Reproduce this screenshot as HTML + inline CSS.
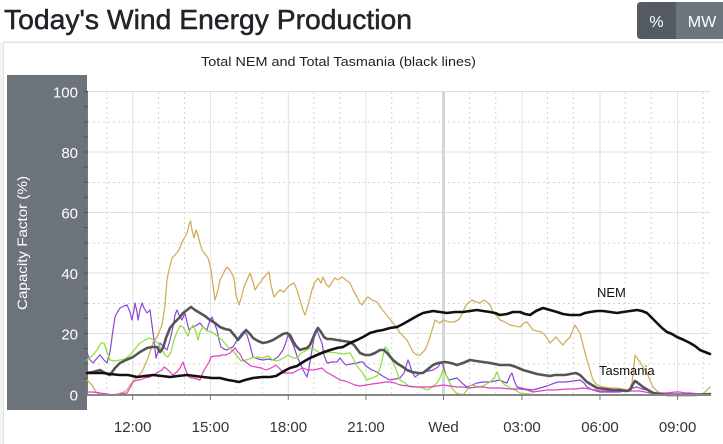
<!DOCTYPE html>
<html><head><meta charset="utf-8"><style>
html,body{margin:0;padding:0;background:#fff;width:723px;height:444px;overflow:hidden}
svg{display:block;font-family:"Liberation Sans",sans-serif}
</style></head><body>
<svg width="723" height="444" viewBox="0 0 723 444" xmlns="http://www.w3.org/2000/svg">
<rect x="0" y="0" width="723" height="444" fill="#fff"/>
<rect x="0" y="42" width="3" height="402" fill="#f3f3f3"/>
<!-- card -->
<rect x="3.5" y="42.5" width="725" height="410" fill="#fff" stroke="#e2e2e2" stroke-width="1"/>
<line x1="3" y1="41.5" x2="723" y2="41.5" stroke="#f0f0f0"/>
<!-- title -->
<text x="4" y="29" font-size="28" fill="#212529" stroke="#212529" stroke-width="0.5" textLength="408" lengthAdjust="spacingAndGlyphs">Today's Wind Energy Production</text>
<!-- buttons -->
<path d="M641,2 H676 V39 H641 Q637,39 637,35 V6 Q637,2 641,2 Z" fill="#545b62"/>
<rect x="676" y="2" width="47" height="37" fill="#6c757d"/>
<text x="656.5" y="27" font-size="16" fill="#fff" text-anchor="middle">%</text>
<text x="702" y="27" font-size="16" fill="#fff" text-anchor="middle">MW</text>
<!-- subtitle -->
<text x="201" y="66" font-size="13" fill="#222" textLength="275" lengthAdjust="spacingAndGlyphs">Total NEM and Total Tasmania (black lines)</text>
<!-- y axis panel -->
<rect x="7" y="75" width="80" height="335" fill="#6c737b"/>
<text transform="translate(27,243) rotate(-90)" font-size="14" fill="#fff" text-anchor="middle" textLength="134" lengthAdjust="spacingAndGlyphs">Capacity Factor (%)</text>
<g font-size="15" fill="#fff" text-anchor="end">
<text x="78" y="97.5">100</text>
<text x="78" y="158">80</text>
<text x="78" y="218.5">60</text>
<text x="78" y="279">40</text>
<text x="78" y="339.5">20</text>
<text x="78" y="400.5">0</text>
</g>
<!-- grid -->
<g stroke="#d4d4d4" stroke-width="1" stroke-dasharray="2,3">
<line x1="88" y1="122" x2="710" y2="122"/>
<line x1="88" y1="182.5" x2="710" y2="182.5"/>
<line x1="88" y1="243" x2="710" y2="243"/>
<line x1="88" y1="303.5" x2="710" y2="303.5"/>
<line x1="88" y1="364" x2="710" y2="364"/>
<line x1="106.8" y1="92" x2="106.8" y2="394"/>
<line x1="158.6" y1="92" x2="158.6" y2="394"/>
<line x1="184.5" y1="92" x2="184.5" y2="394"/>
<line x1="236.3" y1="92" x2="236.3" y2="394"/>
<line x1="262.2" y1="92" x2="262.2" y2="394"/>
<line x1="314" y1="92" x2="314" y2="394"/>
<line x1="339.9" y1="92" x2="339.9" y2="394"/>
<line x1="391.7" y1="92" x2="391.7" y2="394"/>
<line x1="417.8" y1="92" x2="417.8" y2="394"/>
<line x1="469.6" y1="92" x2="469.6" y2="394"/>
<line x1="495.8" y1="92" x2="495.8" y2="394"/>
<line x1="547.4" y1="92" x2="547.4" y2="394"/>
<line x1="573.3" y1="92" x2="573.3" y2="394"/>
<line x1="625.1" y1="92" x2="625.1" y2="394"/>
<line x1="651" y1="92" x2="651" y2="394"/>
<line x1="703" y1="92" x2="703" y2="394"/>
</g>
<g stroke="#e0e0e0" stroke-width="1">
<line x1="88" y1="91.5" x2="710" y2="91.5"/>
<line x1="88" y1="152" x2="710" y2="152"/>
<line x1="88" y1="212.5" x2="710" y2="212.5"/>
<line x1="88" y1="273" x2="710" y2="273"/>
<line x1="88" y1="333.5" x2="710" y2="333.5"/>
<line x1="132.7" y1="92" x2="132.7" y2="394"/>
<line x1="210.4" y1="92" x2="210.4" y2="394"/>
<line x1="288.3" y1="92" x2="288.3" y2="394"/>
<line x1="366" y1="92" x2="366" y2="394"/>
<line x1="522" y1="92" x2="522" y2="394"/>
<line x1="600" y1="92" x2="600" y2="394"/>
<line x1="677.6" y1="92" x2="677.6" y2="394"/>
</g>
<line x1="443.5" y1="92" x2="443.5" y2="394" stroke="#d6d6d6" stroke-width="3"/>
<!-- y axis line & minor ticks -->
<line x1="87.5" y1="91" x2="87.5" y2="395" stroke="#777" stroke-width="1"/>
<g stroke="#555" stroke-width="1">
<line x1="84" y1="91.5" x2="88" y2="91.5"/><line x1="84" y1="106.6" x2="88" y2="106.6"/><line x1="84" y1="121.8" x2="88" y2="121.8"/><line x1="84" y1="136.9" x2="88" y2="136.9"/>
<line x1="84" y1="152" x2="88" y2="152"/><line x1="84" y1="167.1" x2="88" y2="167.1"/><line x1="84" y1="182.3" x2="88" y2="182.3"/><line x1="84" y1="197.4" x2="88" y2="197.4"/>
<line x1="84" y1="212.5" x2="88" y2="212.5"/><line x1="84" y1="227.6" x2="88" y2="227.6"/><line x1="84" y1="242.8" x2="88" y2="242.8"/><line x1="84" y1="257.9" x2="88" y2="257.9"/>
<line x1="84" y1="273" x2="88" y2="273"/><line x1="84" y1="288.1" x2="88" y2="288.1"/><line x1="84" y1="303.3" x2="88" y2="303.3"/><line x1="84" y1="318.4" x2="88" y2="318.4"/>
<line x1="84" y1="333.5" x2="88" y2="333.5"/><line x1="84" y1="348.6" x2="88" y2="348.6"/><line x1="84" y1="363.8" x2="88" y2="363.8"/><line x1="84" y1="378.9" x2="88" y2="378.9"/>
</g>
<!-- series -->
<g fill="none" stroke-linejoin="round" stroke-linecap="round">
<polyline stroke="#d2ae5e" stroke-width="1.3" points="87,380 92,385 96,392 100,395 110,395 118,394 124,392 127,390 130,385 134,380 137,377 142,372 148,358 153,343 158,335 162,325 165,305 167,280 169,270 172,258 175,255 179,250 182,242 185,237 187,233 189,225 190.5,221 192,230 194,238 196,230 198,235 200,243 202,250 205,254 208,258 211,270 213,285 215,300 218,290 220,280 224,272 227,267 230,270 234,278 236,295 239,305 242,295 244,287 247,280 250,273 253,282 255,290 258,285 262,280 265,276 269,272 271,285 274,297 277,293 280,290 284,292 287,288 290,285 294,283 297,290 300,300 303,310 305,315 308,305 312,290 315,282 318,278 321,283 323,277 326,284 329,287 332,282 335,278 338,280 342,277 346,280 350,283 353,290 357,297 360,303 362,305 365,300 368,297 372,300 377,302 381,308 385,313 389,318 393,323 397,328 400,333 404,337 407,340 410,346 413,352 417,355 420,355 423,352 425,350 428,343 430,337 433,327 435,320 438,322 440,323 443,320 446,321 450,322 454,322 458,320 460,318 463,312 465,307 468,303 472,300 476,302 480,303 484,300 487,302 490,305 493,312 497,316 500,320 505,322 510,325 515,326 520,327 524,323 527,322 530,326 533,330 537,331 541,332 544,334 547,338 550,343 553,340 556,337 560,342 563,345 566,341 570,337 573,330 575,325 578,330 580,333 583,345 587,360 590,370 593,380 597,385 603,387 610,388 617,388 622,389 627,390 630,388 632,383 634,365 635,355 637,358 640,362 643,367 647,373 650,380 653,387 657,391 660,393 665,394 680,394 695,394 703,394 707,390 710,387"/>
<polyline stroke="#8c46d4" stroke-width="1.2" points="87,353 90,360 93,363 97,358 100,355 104,360 107,363 110,352 113,330 115,317 118,311 120,308 124,306 127,305 130,312 132,320 134,310 135,303 137,312 138,320 140,310 142,303 144,308 147,313 150,310 152,325 154,340 156,358 158,352 160,343 163,346 167,350 170,340 173,327 175,315 177,310 179,315 182,320 185,313 187,322 189,330 191,328 193,327 197,325 200,323 203,327 207,330 209,323 212,317 214,322 217,330 219,340 221,347 224,349 227,350 230,348 233,347 237,340 242,333 244,331 247,335 250,345 253,357 258,359 263,360 268,359 273,360 278,357 283,350 286,342 288,335 291,340 294,347 297,356 300,363 303,370 307,377 309,368 312,350 314,338 317,330 319,336 322,343 324,355 327,363 332,362 337,362 340,358 343,362 346,365 351,364 357,363 360,362 363,362 366,366 372,370 377,372 381,375 386,378 390,380 395,379 400,378 404,373 408,360 410,365 412,372 415,377 419,374 423,372 428,371 433,370 438,367 441,362 443,365 446,375 449,380 453,379 457,378 462,383 467,387 472,385 477,383 483,382 490,382 495,381 500,380 504,382 507,383 510,376 512,373 514,380 517,387 525,389 533,390 540,388 547,386 552,384 558,382 566,382 573,381 580,380 584,383 587,387 593,390 600,392 610,392 620,392 628,390 633,388 637,387 642,389 647,390 652,392 657,393 665,394 680,394 695,394 710,394"/>
<polyline stroke="#8ee23e" stroke-width="1.3" points="87,360 92,356 97,350 101,343 104,343 107,352 110,360 115,361 120,360 125,359 130,355 135,349 140,343 145,340 150,338 155,341 158,343 162,350 165,355 168,357 171,352 174,340 177,332 180,326 183,327 186,332 188,336 190,330 193,325 196,332 198,340 200,332 203,327 207,331 212,332 217,336 222,340 227,346 232,350 237,356 241,361 246,360 252,358 258,357 263,358 268,356 273,360 278,361 283,358 288,355 293,358 297,358 300,354 305,351 310,348 315,350 320,353 325,353 330,352 337,353 343,354 350,353 353,358 357,366 362,372 367,380 372,378 377,376 381,365 385,347 388,350 391,358 394,364 397,372 400,380 405,383 410,387 415,387 420,387 425,389 428,390 432,387 437,383 440,378 443,370 446,375 449,381 452,388 456,393 460,394 463,395 467,390 471,385 475,386 480,387 485,385 490,382 494,378 497,372 500,380 505,385 510,388 515,390 520,393 530,394 537,395 560,395 600,395 650,395 710,395"/>
<polyline stroke="#e040c4" stroke-width="1.2" points="87,392 93,392 100,393 107,394 113,395 120,394 127,393 130,388 133,382 137,380 140,380 145,378 150,377 155,374 158,372 162,370 164,367 167,369 170,372 173,375 177,372 180,368 183,362 185,368 188,376 191,378 194,378 197,379 200,380 203,372 206,367 209,362 211,357 215,356 219,356 222,355 226,355 230,353 233,350 235,348 237,351 240,354 243,360 247,363 251,366 256,367 261,368 266,370 271,368 276,365 280,369 284,373 289,373 293,373 298,370 303,368 308,370 313,370 318,369 322,368 326,372 330,374 335,377 340,380 345,381 350,383 355,385 360,386 366,385 372,384 380,383 386,382 390,382 395,383 400,385 408,386 416,387 423,387 430,387 437,386 443,385 450,386 457,387 463,387 470,388 477,387 483,387 490,388 500,388 510,389 520,389 527,390 533,392 540,391 547,390 555,390 566,389 575,389 583,388 590,389 600,391 610,391 620,391 630,391 640,391 650,393 660,393 667,393 675,392 680,392 685,393 690,393 700,394 710,394"/>
<polyline stroke="#555" stroke-width="2.6" points="87,373 93,372 100,370 105,373 110,375 115,368 120,363 126,360 133,357 140,352 147,348 152,347 157,347 160,352 163,348 166,338 170,328 174,323 177,320 180,317 183,313 187,310 191,307 195,310 200,313 205,316 210,320 215,323 220,327 225,329 230,330 235,336 238,340 242,335 246,330 250,334 253,338 258,341 263,343 268,342 273,340 278,337 283,334 287,333 290,335 293,341 296,346 300,350 303,349 307,348 310,345 313,338 316,331 318,328 321,332 324,337 327,339 331,339 337,340 343,341 350,342 354,345 357,349 360,353 365,355 370,355 375,353 380,350 384,350 388,354 393,360 398,364 403,367 407,370 412,372 418,373 423,373 428,369 433,365 438,363 445,362 451,363 457,365 463,363 470,360 476,361 483,362 490,363 495,364 500,365 505,365 510,365 516,367 523,370 530,372 537,374 543,375 550,376 555,375 560,375 565,375 570,374 576,373 580,375 584,379 587,382 592,385 597,388 605,389 613,390 620,390 627,391 630,390 633,384 635,381 638,383 643,387 648,390 653,393 660,394 667,395 680,395 695,395 710,394"/>
<polyline stroke="#111" stroke-width="2.6" points="87,373 95,373 103,373 110,374 120,375 128,375 137,377 145,376 153,375 162,376 170,377 178,376 187,375 195,376 203,377 212,378 220,378 228,380 234,381 239,382 245,380 253,378 262,377 270,377 276,376 281,373 286,370 290,368 297,366 303,362 310,358 317,355 324,352 330,350 337,348 343,347 350,343 357,340 363,337 370,333 377,331 383,330 390,328 397,327 403,324 410,320 417,316 423,313 428,312 433,311 440,312 447,313 455,312 463,312 470,311 477,310 483,311 490,312 495,313 500,315 507,314 513,312 520,312 525,314 530,315 536,311 543,308 550,310 557,312 563,314 570,315 576,315 580,315 585,313 590,312 597,311 603,311 610,312 617,313 623,312 630,311 637,310 642,311 647,313 652,318 657,323 662,328 667,332 672,334 677,337 684,340 690,343 695,346 700,350 705,352 710,354"/>
</g>
<!-- x axis -->
<line x1="87" y1="395" x2="711" y2="395" stroke="#888" stroke-width="2"/>
<g stroke="#777" stroke-width="1">
<line x1="132.7" y1="395" x2="132.7" y2="400"/><line x1="210.4" y1="395" x2="210.4" y2="400"/><line x1="288.3" y1="395" x2="288.3" y2="400"/><line x1="366" y1="395" x2="366" y2="400"/>
<line x1="443.5" y1="395" x2="443.5" y2="400"/><line x1="522" y1="395" x2="522" y2="400"/><line x1="600" y1="395" x2="600" y2="400"/><line x1="677.6" y1="395" x2="677.6" y2="400"/>
</g>
<g font-size="15" fill="#333" text-anchor="middle">
<text x="132.7" y="432">12:00</text>
<text x="210.4" y="432">15:00</text>
<text x="288.3" y="432">18:00</text>
<text x="366" y="432">21:00</text>
<text x="443.5" y="432">Wed</text>
<text x="522" y="432">03:00</text>
<text x="600" y="432">06:00</text>
<text x="677.6" y="432">09:00</text>
</g>
<text x="597" y="297" font-size="13" fill="#111">NEM</text>
<text x="599" y="375" font-size="13" fill="#111">Tasmania</text>
</svg>
</body></html>
